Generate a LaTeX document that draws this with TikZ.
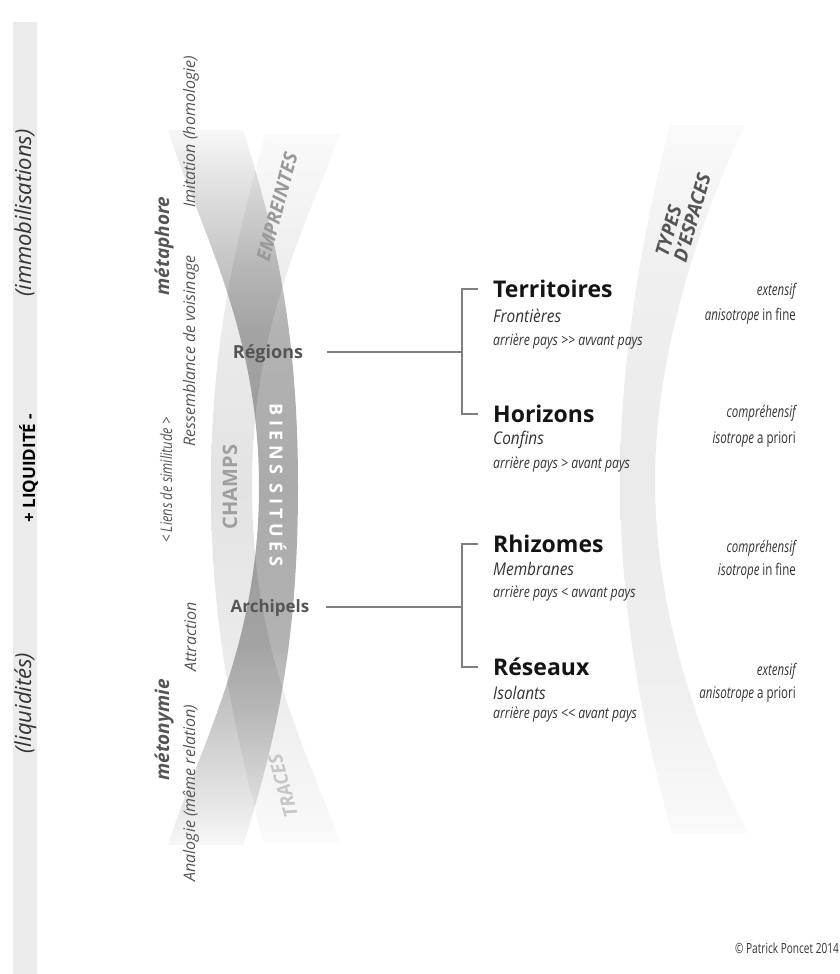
\documentclass[tikz,border=0pt]{standalone}
\usepackage{fontspec}
\setmainfont{Open Sans}
\newfontfamily\condfont[FakeStretch=0.8]{Open Sans}
\newfontfamily\narrowfont[FakeStretch=0.72]{Open Sans}
\newfontfamily\semifont[FakeStretch=0.88]{Open Sans}
\usetikzlibrary{calc}
\definecolor{bargray}{HTML}{EBEBEB}
\definecolor{linegray}{HTML}{7F7F7F}
\definecolor{labelgray}{HTML}{555555}
\definecolor{textgray}{HTML}{333333}
% degrades des rubans
\pgfdeclareverticalshading{biens}{100bp}{color(0bp)=(black!3); color(25bp)=(black!3);
  color(28bp)=(black!10); color(34bp)=(black!22); color(39bp)=(black!30); color(50bp)=(black!33);
  color(61bp)=(black!30); color(66bp)=(black!22); color(72bp)=(black!10); color(75bp)=(black!3);
  color(100bp)=(black!3)}
\pgfdeclareverticalshading{champs}{100bp}{color(0bp)=(black!2); color(25bp)=(black!2);
  color(35bp)=(black!7); color(50bp)=(black!11); color(65bp)=(black!7); color(75bp)=(black!2);
  color(100bp)=(black!2)}
\pgfdeclareverticalshading{types}{100bp}{color(0bp)=(black!2); color(25bp)=(black!2);
  color(35bp)=(black!6); color(50bp)=(black!8); color(65bp)=(black!6); color(75bp)=(black!2);
  color(100bp)=(black!2)}
\tikzset{
  conn/.style={draw=linegray, line width=1.8pt},
  titre/.style={font=\fontsize{23}{23}\selectfont\bfseries, text=black!92, inner sep=0pt,
    text height=16pt, text depth=0pt, anchor=base west},
  soustitre/.style={font=\semifont\fontsize{17.5}{17.5}\selectfont\itshape, text=textgray, inner sep=0pt, anchor=base west},
  rapport/.style={font=\condfont\fontsize{15.3}{15.3}\selectfont\itshape, text=textgray, inner sep=0pt, anchor=base west},
  qualite/.style={font=\narrowfont\fontsize{16}{16}\selectfont, text=textgray, inner sep=0pt, anchor=base east},
  lieu/.style={font=\fontsize{18}{18}\selectfont\bfseries, text=labelgray, inner sep=0pt, anchor=base},
  figure/.style={font=\fontsize{19}{19}\selectfont\bfseries\itshape, text=labelgray, inner sep=0pt, rotate=90, anchor=base},
  lien/.style={font=\fontsize{16}{16}\selectfont\itshape, text=labelgray, inner sep=0pt, rotate=90, anchor=base},
  ruban/.style={font=\fontsize{19}{19}\selectfont\bfseries\itshape, inner sep=0pt}
}

\begin{document}
\begin{tikzpicture}[x=1pt,y=-1pt]
	\useasboundingbox (0,0) rectangle (840,974);

	% barre de liquidite
	\fill[bargray] (13,22) rectangle (37,974);
	\node[font=\fontsize{22}{22}\selectfont\itshape, text=textgray, rotate=90, anchor=base, inner sep=0pt]
		(immo) at (31,213) {(immobilisations)};
	\node[font=\fontsize{17}{17}\selectfont\bfseries, rotate=90, anchor=base, inner sep=0pt]
		(liquidite) at (35,468) {+ LIQUIDIT\'E -};
	\node[font=\fontsize{22}{22}\selectfont\itshape, text=textgray, rotate=90, anchor=base, inner sep=0pt]
		(liqu) at (31,703) {(liquidit\'es)};

	% rubans croises
	\begin{scope}[blend mode=multiply]
	\shade[shading=champs] (265,134) .. controls (240,230) and (211,330) .. (211,487)
		.. controls (211,645) and (240,745) .. (263,842) -- (340,842)
		.. controls (300,735) and (252,645) .. (252,487)
		.. controls (252,330) and (300,240) .. (340,134) -- cycle;
	\shade[shading=biens] (168,130) .. controls (200,230) and (259,330) .. (259,487)
		.. controls (259,645) and (200,745) .. (168,845) -- (243,845)
		.. controls (275,745) and (298,645) .. (298,487)
		.. controls (298,330) and (275,230) .. (243,130) -- cycle;
	\end{scope}
	\shade[shading=types] (670,125) .. controls (640,240) and (620,370) .. (620,480)
		.. controls (620,600) and (640,720) .. (672,833) -- (748,833)
		.. controls (690,720) and (655,600) .. (655,480)
		.. controls (655,370) and (690,240) .. (745,125) -- cycle;

	\node[ruban, text=black!40, rotate=75] (empreintes) at (277,207) {EMPREINTES};
	\node[ruban, text=black!22, rotate=105] (traces) at (283,786) {TRACES};
	\node[ruban, font=\fontsize{20}{20}\selectfont\bfseries, text=black!38, rotate=90] (champs) at (230,487) {CHAMPS};
	\node[ruban, font=\fontsize{18}{18}\selectfont\bfseries\addfontfeature{LetterSpace=25}, text=white, rotate=-90]
		(biens) at (278,485) {BIENS SITU\'ES};
	\node[ruban, text=labelgray, rotate=74, align=left] (types) at (683,215) {TYPES\\D’ESPACES};

	% figures et liens
	\node[figure] (metaphore) at (169,246) {m\'etaphore};
	\node[figure] (metonymie) at (169,730) {m\'etonymie};
	\node[lien] (imitation) at (195,132) {Imitation (homologie)};
	\node[lien] (ressemblance) at (195,351) {Ressemblance de voisinage};
	\node[lien] (attraction) at (196,637) {Attraction};
	\node[lien] (analogie) at (195,793) {Analogie (m\^eme relation)};
	\node[lien, font=\condfont\fontsize{16}{16}\selectfont\itshape] (similitude) at (172,480) {< Liens de similitude >};

	\node[lieu] (regions) at (268,358) {R\'egions};
	\node[lieu, font=\fontsize{17}{17}\selectfont\bfseries] (archipels) at (270,612) {Archipels};

	% types d'espaces
	\node[titre] (terr) at (493,297) {Territoires};
	\node[soustitre] (terrA) at (493,322) {Fronti\`eres};
	\node[rapport] (terrB) at (493,345) {arri\`ere pays >> avvant pays};
	\node[titre] (hor) at (493,422) {Horizons};
	\node[soustitre] (horA) at (493,444) {Confins};
	\node[rapport] (horB) at (493,468) {arri\`ere pays > avant pays};
	\node[titre] (rhiz) at (493,552) {Rhizomes};
	\node[soustitre] (rhizA) at (493,575) {Membranes};
	\node[rapport] (rhizB) at (493,597) {arri\`ere pays < avvant pays};
	\node[titre] (res) at (493,675) {R\'eseaux};
	\node[soustitre] (resA) at (493,699) {Isolants};
	\node[rapport] (resB) at (493,718) {arri\`ere pays << avant pays};

	\node[qualite] (terrC) at (796,295) {\itshape extensif};
	\node[qualite] (terrD) at (796,320) {\textit{anisotrope} in fine};
	\node[qualite] (horC) at (796,417) {\itshape compr\'ehensif};
	\node[qualite] (horD) at (796,443) {\textit{isotrope} a priori};
	\node[qualite] (rhizC) at (796,552) {\itshape compr\'ehensif};
	\node[qualite] (rhizD) at (796,575) {\textit{isotrope} in fine};
	\node[qualite] (resC) at (796,675) {\itshape extensif};
	\node[qualite] (resD) at (796,698) {\textit{anisotrope} a priori};

	% accolades
	\coordinate (fourchA) at (462,352);
	\coordinate (fourchB) at (462,607);
	\draw[conn] (regions.east |- fourchA) ++(24,0) -- (fourchA);
	\draw[conn] (archipels.east |- fourchB) ++(16,0) -- (fourchB);
	\draw[conn] ([xshift=-15pt]terr.west) -| (fourchA) |- ([xshift=-15pt]hor.west);
	\draw[conn] ([xshift=-15pt]rhiz.west) -| (fourchB) |- ([xshift=-15pt]res.west);

	\node[qualite, font=\narrowfont\fontsize{14}{14}\selectfont] (credit) at (839,953) {\textcopyright\ Patrick Poncet 2014};
\end{tikzpicture}
\end{document}
